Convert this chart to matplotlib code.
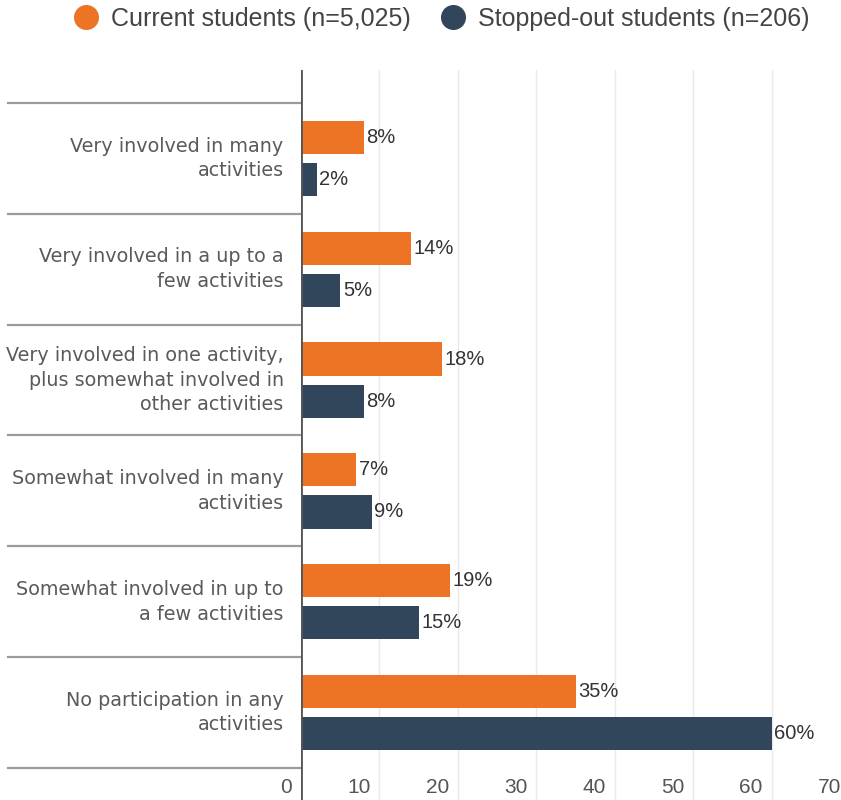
import matplotlib
matplotlib.use("Agg")
import matplotlib.pyplot as plt
import matplotlib.transforms as mtransforms
from matplotlib.lines import Line2D
import numpy as np

# data
categories = [
    "Very involved in many\nactivities",
    "Very involved in a up to a\nfew activities",
    "Very involved in one activity,\nplus somewhat involved in\nother activities",
    "Somewhat involved in many\nactivities",
    "Somewhat involved in up to\na few activities",
    "No participation in any\nactivities",
]
current = [8, 14, 18, 7, 19, 35]
stopped = [2, 5, 8, 9, 15, 60]
series_names = ["Current students (n=5,025)", "Stopped-out students (n=206)"]
xticks = [0, 10, 20, 30, 40, 50, 60, 70]

ORANGE = "#EC7424"
NAVY = "#31455B"

W, H = 841, 800
fig = plt.figure(figsize=(W / 100, H / 100), dpi=100)

# axes: left edge at the zero line, right edge runs slightly past the figure
left_px, right_px, top_px = 301, 850, 70
ax = fig.add_axes([left_px / W, 0, (right_px - left_px) / W, (H - top_px) / H])

y = np.arange(len(categories))
bh = 0.3
off = 0.19
ax.barh(y - off, current, height=bh, color=ORANGE, zorder=3)
ax.barh(y + off, stopped, height=bh, color=NAVY, zorder=3)

for yi, v in zip(y, current):
    ax.text(v + 0.35, yi - off, f"{v}%", va="center", ha="left",
            fontsize=14.5, color="#333333", family="Liberation Sans")
for yi, v in zip(y, stopped):
    ax.text(v + 0.35, yi + off, f"{v}%", va="center", ha="left",
            fontsize=14.5, color="#333333", family="Liberation Sans")

ax.set_xlim(0, 70)
ax.set_ylim(5.5 + 32 / 111, -0.5 - 33 / 111)

# gridlines
for t in xticks[1:]:
    ax.axvline(t, color="#e9e9e9", lw=1, zorder=1)
ax.axvline(0, color="#555555", lw=2, zorder=4)

# separators across the label column
for b in np.arange(-0.5, len(categories), 1.0):
    ax.axhline(b, xmin=(8 - left_px) / (right_px - left_px), xmax=0,
               color="#9b9b9b", lw=1.6, clip_on=False, zorder=2)

for yi, lab in zip(y, categories):
    ax.text(-2.2, yi, lab, ha="right", va="center", fontsize=13.8,
            color="#5a5a5a", family="DejaVu Sans", linespacing=1.38)

ax.set_yticks([])
ax.set_xticks(xticks)
ax.set_xticklabels([str(t) for t in xticks], family="Liberation Sans",
                   fontsize=15, color="#555555", ha="right")
ax.tick_params(axis="x", length=0, pad=-15.5)
shift = mtransforms.ScaledTranslation(-9 / 100, 0, fig.dpi_scale_trans)
for lbl in ax.get_xticklabels():
    lbl.set_transform(lbl.get_transform() + shift)

for s in ax.spines.values():
    s.set_visible(False)

handles = [Line2D([], [], ls="none", marker="o", markersize=17, color=ORANGE),
           Line2D([], [], ls="none", marker="o", markersize=17, color=NAVY)]
fig.legend(handles, series_names, loc="center", bbox_to_anchor=(0.525, 1 - 19 / H),
           ncol=2, frameon=False, handlelength=1.0, handletextpad=0.5,
           columnspacing=1.2, prop={"family": "Liberation Sans", "size": 18},
           labelcolor="#444444")

fig.savefig("out.png", dpi=100)
